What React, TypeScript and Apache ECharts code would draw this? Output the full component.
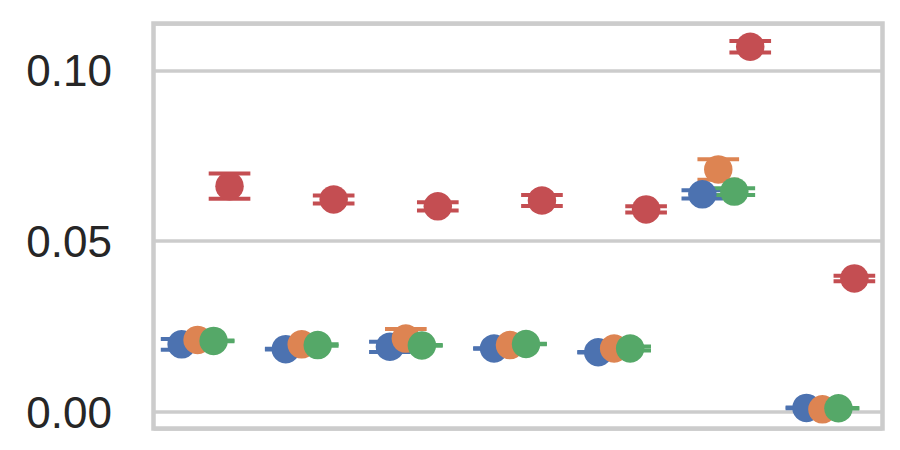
import React, { useEffect, useRef } from "react";
import * as echarts from "echarts";

// Seven unlabeled groups on the x axis
const categories = ["g1", "g2", "g3", "g4", "g5", "g6", "g7"];
const seriesNames = ["blue", "orange", "green", "red"];

// Point estimates
const blueValues = [0.0198, 0.0184, 0.0191, 0.0186, 0.0175, 0.0637, 0.0012];
const orangeValues = [0.0211, 0.0198, 0.0215, 0.0196, 0.0186, 0.071, 0.0008];
const greenValues = [0.0208, 0.0196, 0.0195, 0.0199, 0.0186, 0.0645, 0.0011];
const redValues = [0.0661, 0.0622, 0.0602, 0.0619, 0.0593, 0.1069, 0.0391];

// Half-widths of the confidence intervals
const blueErr = [0.0016, 0.0001, 0.0015, 0.0001, 0.0001, 0.0012, 0.0001];
const orangeErr = [0.0002, 0.0002, 0.0028, 0.0002, 0.0002, 0.003, 0.0002];
const greenErr = [0.0001, 0.0002, 0.0001, 0.0001, 0.0006, 0.001, 0.0001];
const redErr = [0.0037, 0.0012, 0.0012, 0.0016, 0.0009, 0.0017, 0.0008];

const yTicks = [0, 0.05, 0.1];

const colors = ["#4C72B0", "#DD8452", "#55A868", "#C44E52"];
const dodge = [-0.23, -0.077, 0.077, 0.23];

export default function App() {
  const ref = useRef<HTMLDivElement>(null);
  useEffect(() => {
    if (!ref.current) return;
    const chart = echarts.init(ref.current, null, { renderer: "svg" });
    const values = [blueValues, orangeValues, greenValues, redValues];
    const errs = [blueErr, orangeErr, greenErr, redErr];

    const errSeries: any[] = values.map((vals, s) => ({
      type: "custom",
      name: seriesNames[s] + "-ci",
      z: 2,
      data: vals.map((v, i) => [i + dodge[s], v - errs[s][i], v + errs[s][i]]),
      renderItem: (params: any, api: any) => {
        const x = api.value(0);
        const lo = api.value(1);
        const hi = api.value(2);
        const pHi = api.coord([x, hi]);
        const pLo = api.coord([x, lo]);
        const capL = api.coord([x - 0.2, hi])[0];
        const capR = api.coord([x + 0.2, hi])[0];
        const st = { stroke: colors[s], lineWidth: 4, fill: "none" };
        return {
          type: "group",
          children: [
            { type: "line", shape: { x1: pHi[0], y1: pHi[1], x2: pLo[0], y2: pLo[1] }, style: st },
            { type: "line", shape: { x1: capL, y1: pHi[1], x2: capR, y2: pHi[1] }, style: st },
            { type: "line", shape: { x1: capL, y1: pLo[1], x2: capR, y2: pLo[1] }, style: st },
          ],
        };
      },
    }));

    const pointSeries: any[] = values.map((vals, s) => ({
      type: "scatter",
      name: seriesNames[s],
      z: 3,
      symbol: "circle",
      symbolSize: 28.5,
      itemStyle: { color: colors[s], opacity: 1 },
      data: vals.map((v, i) => [i + dodge[s], v]),
    }));

    chart.setOption({
      animation: false,
      backgroundColor: "#ffffff",
      grid: {
        left: 153.5,
        right: 17.5,
        top: 23.5,
        bottom: 21.5,
        show: true,
        borderColor: "#cccccc",
        borderWidth: 4.5,
        backgroundColor: "transparent",
        z: 1,
      },
      xAxis: {
        type: "value",
        min: -0.5,
        max: categories.length - 0.5,
        show: false,
      },
      yAxis: {
        type: "value",
        min: -0.00482,
        max: 0.1137,
        splitNumber: 2,
        axisLine: { show: false },
        axisTick: { show: false },
        axisLabel: {
          show: true,
          margin: 41.5,
          fontSize: 44,
          fontFamily: "Liberation Sans, Arial, sans-serif",
          color: "#262626",
          showMinLabel: false,
          showMaxLabel: false,
          formatter: (v: number) => {
            const t = yTicks.find((k) => Math.abs(k - v) < 1e-9);
            return t === undefined ? "" : t.toFixed(2);
          },
        },
        splitLine: { show: true, lineStyle: { color: "#cccccc", width: 3.5 } },
      },
      series: [...errSeries, ...pointSeries],
    });
    return () => chart.dispose();
  }, []);
  return <div ref={ref} style={{ width: 900, height: 450, position: "absolute", left: 0, top: 0 }} />;
}
